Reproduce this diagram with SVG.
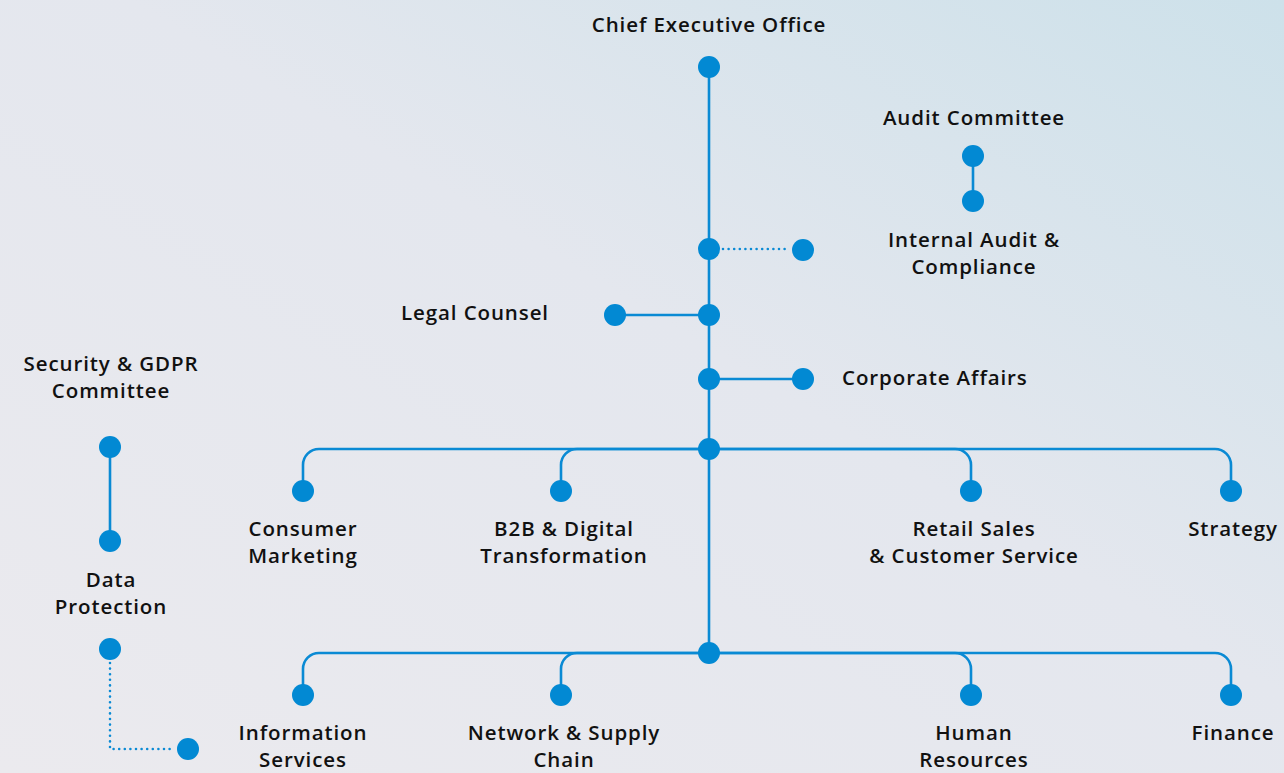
<svg xmlns="http://www.w3.org/2000/svg" width="1284" height="773" viewBox="0 0 1284 773">
<defs>
<linearGradient id="bg" x1="0" y1="1" x2="1" y2="0">
<stop offset="0" stop-color="#ebeaee"/>
<stop offset="0.55" stop-color="#e4e7ee"/>
<stop offset="1" stop-color="#cde1ea"/>
</linearGradient>
<style>
.ln{fill:none;stroke:#0a8ad4;stroke-width:2.6;stroke-linecap:round}
.dt{fill:none;stroke:#0a8ad4;stroke-width:2.6;stroke-dasharray:0 5.6;stroke-linecap:round}
.dot{fill:#0289d3}
text{font-family:"Open Sans","Noto Sans",sans-serif;font-weight:600;font-size:20.5px;letter-spacing:0.9px;fill:#111;text-anchor:middle}
</style>
</defs>
<rect width="1284" height="773" fill="url(#bg)"/>
<g id="connectors">
<path class="ln" d="M709,67 V653"/>
<path class="dt" d="M723,249 H790"/>
<path class="ln" d="M973,156 V201"/>
<path class="ln" d="M615,315 H709"/>
<path class="ln" d="M709,379 H803"/>
<path class="ln" d="M709,449 H319 A16,16 0 0 0 303,465 V491"/>
<path class="ln" d="M709,449 H577 A16,16 0 0 0 561,465 V491"/>
<path class="ln" d="M709,449 H955 A16,16 0 0 1 971,465 V491"/>
<path class="ln" d="M709,449 H1215 A16,16 0 0 1 1231,465 V491"/>
<path class="ln" d="M709,653 H319 A16,16 0 0 0 303,669 V695"/>
<path class="ln" d="M709,653 H577 A16,16 0 0 0 561,669 V695"/>
<path class="ln" d="M709,653 H955 A16,16 0 0 1 971,669 V695"/>
<path class="ln" d="M709,653 H1215 A16,16 0 0 1 1231,669 V695"/>
<path class="ln" d="M110,447 V541"/>
<path class="dt" d="M110,663 V749 H175"/>
</g>
<g id="ceo"><text x="709" y="32">Chief Executive Office</text><circle class="dot" cx="709" cy="67" r="11"/></g>
<g id="hub-audit"><circle class="dot" cx="709" cy="249" r="11"/><circle class="dot" cx="803" cy="250" r="11"/></g>
<g id="audit-committee"><text x="974" y="125">Audit Committee</text><circle class="dot" cx="973" cy="156" r="11"/></g>
<g id="internal-audit"><circle class="dot" cx="973" cy="201" r="11"/><text x="974" y="247">Internal Audit &amp;</text><text x="974" y="274">Compliance</text></g>
<g id="legal"><text x="549" y="320" style="text-anchor:end">Legal Counsel</text><circle class="dot" cx="615" cy="315" r="11"/><circle class="dot" cx="709" cy="315" r="11"/></g>
<g id="corporate"><circle class="dot" cx="709" cy="379" r="11"/><circle class="dot" cx="803" cy="379" r="11"/><text x="842" y="385" style="text-anchor:start">Corporate Affairs</text></g>
<g id="hub1"><circle class="dot" cx="709" cy="449" r="11"/></g>
<g id="consumer"><circle class="dot" cx="303" cy="491" r="11"/><text x="303" y="536">Consumer</text><text x="303" y="563">Marketing</text></g>
<g id="b2b"><circle class="dot" cx="561" cy="491" r="11"/><text x="564" y="536">B2B &amp; Digital</text><text x="564" y="563">Transformation</text></g>
<g id="retail"><circle class="dot" cx="971" cy="491" r="11"/><text x="974" y="536">Retail Sales</text><text x="974" y="563">&amp; Customer Service</text></g>
<g id="strategy"><circle class="dot" cx="1231" cy="491" r="11"/><text x="1233" y="536">Strategy</text></g>
<g id="hub2"><circle class="dot" cx="709" cy="653" r="11"/></g>
<g id="info"><circle class="dot" cx="303" cy="695" r="11"/><text x="303" y="740">Information</text><text x="303" y="767">Services</text></g>
<g id="network"><circle class="dot" cx="561" cy="695" r="11"/><text x="564" y="740">Network &amp; Supply</text><text x="564" y="767">Chain</text></g>
<g id="hr"><circle class="dot" cx="971" cy="695" r="11"/><text x="974" y="740">Human</text><text x="974" y="767">Resources</text></g>
<g id="finance"><circle class="dot" cx="1231" cy="695" r="11"/><text x="1233" y="740">Finance</text></g>
<g id="security"><text x="111" y="371">Security &amp; GDPR</text><text x="111" y="398">Committee</text><circle class="dot" cx="110" cy="447" r="11"/></g>
<g id="data-protection"><circle class="dot" cx="110" cy="541" r="11"/><text x="111" y="587">Data</text><text x="111" y="614">Protection</text><circle class="dot" cx="110" cy="649" r="11"/></g>
<g id="dp-end"><circle class="dot" cx="188" cy="749" r="11"/></g>
</svg>
